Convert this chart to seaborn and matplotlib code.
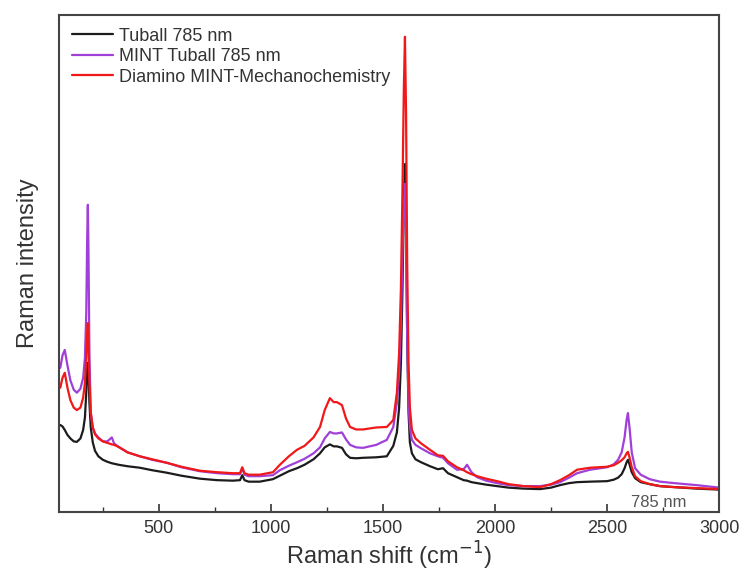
import numpy as np
import pandas as pd
import matplotlib
matplotlib.use("Agg")
import matplotlib.pyplot as plt
import seaborn as sns
from matplotlib.ticker import MultipleLocator

# Raman shift grid (cm^-1)
shift = [60, 70, 80, 92, 105, 120, 134, 150, 162, 170,
         176, 180, 183, 186, 190, 196, 205, 215, 230, 250,
         270, 290, 300, 320, 360, 415, 470, 535, 600, 683,
         760, 830, 862, 872, 882, 900, 950, 1009, 1040, 1080,
         1116, 1150, 1190, 1219, 1240, 1263, 1280, 1294, 1317, 1335,
         1353, 1380, 1411, 1470, 1517, 1546, 1562, 1572, 1580, 1587,
         1593, 1598, 1603, 1608, 1614, 1620, 1629, 1645, 1670, 1710,
         1745, 1768, 1790, 1830, 1860, 1875, 1895, 1920, 1960, 2009,
         2060, 2127, 2201, 2250, 2290, 2330, 2366, 2424, 2500, 2530,
         2549, 2565, 2578, 2587, 2593, 2600, 2610, 2625, 2650, 2690,
         2736, 2800, 2900, 3000]

tuball = [17.5, 17.2, 16.5, 15.5, 14.8, 14.2, 14.1, 14.8, 16.5, 19,
          24, 28.5, 30, 28, 22, 17, 14, 12.3, 11.2, 10.5,
          10.1, 9.8, 9.7, 9.5, 9.2, 8.9, 8.4, 7.9, 7.3, 6.7,
          6.4, 6.3, 6.4, 7.4, 6.4, 6.1, 6.1, 6.6, 7.3, 8.2,
          8.8, 9.5, 10.6, 11.8, 13, 13.6, 13.2, 13.2, 12.9, 11.6,
          10.9, 10.8, 10.9, 11, 11.2, 13.3, 16, 21, 30, 45,
          62, 70, 58, 35, 20, 14, 11.8, 10.6, 10, 9.2,
          8.6, 8.8, 7.8, 7, 6.4, 6.3, 6, 5.8, 5.5, 5.2,
          4.9, 4.7, 4.6, 4.9, 5.4, 5.8, 6, 6.1, 6.2, 6.5,
          6.9, 7.6, 8.8, 10, 10.5, 9.6, 8, 6.8, 6, 5.6,
          5.2, 5, 4.7, 4.5]

mint = [29, 31.5, 32.6, 29.5, 26.5, 24.6, 24, 24.8, 27, 31,
        40, 55, 61.8, 52, 32, 20, 17, 15.8, 15, 14.2,
        14.2, 15, 13.8, 13.1, 12, 11.2, 10.5, 9.9, 9, 8.2,
        7.8, 7.6, 7.6, 8.8, 7.5, 7.2, 7.2, 7.4, 8.4, 9.3,
        10, 10.7, 11.8, 13, 14.8, 16.1, 15.8, 15.8, 16, 14.6,
        13.5, 13, 12.9, 13.5, 14.5, 17.1, 22, 28, 38, 52,
        62, 66, 55, 35, 22, 17, 14.5, 13.5, 12.8, 11.8,
        11.2, 10.9, 9.8, 8.5, 8.6, 9.5, 8, 7, 6.3, 5.8,
        5.4, 5.2, 5.2, 5.5, 6, 6.9, 7.8, 8.5, 9, 9.6,
        10.5, 12, 15, 18.5, 19.9, 17, 12, 8.8, 7.5, 6.6,
        6.1, 5.8, 5.4, 4.9]

diamino = [25, 27, 28, 25, 22.5, 21, 20.5, 21, 23, 26,
           31, 36, 38, 34, 26, 20, 17, 15.6, 14.8, 14.2,
           13.9, 13.6, 13.5, 13.1, 12, 11.2, 10.6, 9.9, 9.1, 8.3,
           8, 7.8, 7.8, 9, 7.8, 7.5, 7.5, 8, 9.5, 11.2,
           12.5, 13.3, 15, 17.1, 20.5, 22.9, 22.1, 22.1, 21.5, 18.8,
           17.1, 16.6, 16.6, 17, 17.1, 18.5, 24, 32, 45, 65,
           85, 95.6, 80, 50, 30, 21, 16.5, 14.8, 13.8, 12.5,
           11.4, 11.3, 10.2, 9, 8.4, 8, 7.6, 7.2, 6.7, 6.2,
           5.6, 5.2, 5, 5.6, 6.4, 7.4, 8.5, 8.9, 9.1, 9.4,
           9.9, 10.4, 11, 11.8, 12.1, 11, 9, 7.2, 6.2, 5.6,
           5.2, 5, 4.8, 4.6]

labels = ["Tuball 785 nm", "MINT Tuball 785 nm", "Diamino MINT-Mechanochemistry"]
colors = ["#1c1c1c", "#a040d8", "#f01818"]
xticks = [500, 1000, 1500, 2000, 2500, 3000]

df = pd.concat([
    pd.DataFrame({"shift": shift, "intensity": tuball, "sample": labels[0]}),
    pd.DataFrame({"shift": shift, "intensity": mint, "sample": labels[1]}),
    pd.DataFrame({"shift": shift, "intensity": diamino, "sample": labels[2]}),
])

sns.set_style("ticks")
plt.rcParams["font.family"] = ["Liberation Sans", "DejaVu Sans"]

fig = plt.figure(figsize=(7.46, 5.73), dpi=100)
ax = fig.add_axes([0.079, 0.1065, 0.885, 0.8675])

sns.lineplot(data=df, x="shift", y="intensity", hue="sample", hue_order=labels,
             palette=colors, linewidth=1.6, ax=ax, sort=False, estimator=None)

ax.set_xlim(54, 3000)
ax.set_ylim(0, 100)
ax.set_xticks(xticks)
ax.set_xticklabels([str(t) for t in xticks])
ax.xaxis.set_minor_locator(MultipleLocator(250))
ax.set_yticks([])
ax.tick_params(axis="x", which="major", direction="in", length=6, width=1.2,
               labelsize=13, colors="#333333", pad=6)
ax.tick_params(axis="x", which="minor", direction="in", length=3.5, width=1.0,
               colors="#333333")
for sp in ax.spines.values():
    sp.set_visible(True)
    sp.set_color("#444444")
    sp.set_linewidth(1.5)

ax.set_xlabel("Raman shift (cm$^{-1}$)", fontsize=17, color="#333333", labelpad=2)
ax.set_ylabel("Raman intensity", fontsize=17, color="#333333", labelpad=14)

ax.text(2605, 2.0, "785 nm", fontsize=12, color="#555555", va="center", ha="left")

leg = ax.legend(loc="upper left", frameon=False, fontsize=13, handlelength=2.3,
                handletextpad=0.3, labelspacing=0.2, borderaxespad=0.3,
                bbox_to_anchor=(0.0, 1.0))
for t in leg.get_texts():
    t.set_color("#333333")

fig.savefig("out.png", dpi=100)
